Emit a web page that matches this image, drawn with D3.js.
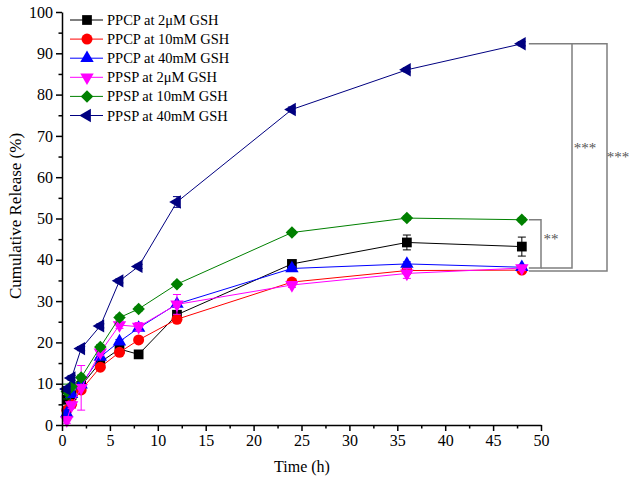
<!DOCTYPE html>
<html>
<head>
<meta charset="utf-8">
<script src="https://cdn.jsdelivr.net/npm/d3@7"></script>
<style>
  body { margin: 0; background: #fff; }
  text { font-family: "Liberation Serif", "Times New Roman", serif; }
</style>
</head>
<body>
<div id="chart"></div>
<script>
// data
var time = [0.5, 1, 2, 4, 6, 8, 12, 24, 36, 48];
var seriesNames = ["PPCP at 2\u03bcM GSH", "PPCP at 10mM GSH", "PPCP at 40mM GSH",
                   "PPSP at 2\u03bcM GSH", "PPSP at 10mM GSH", "PPSP at 40mM GSH"];
var ppcp2  = [6.1, 7.2, 9.5, 15.2, 18.4, 17.1, 26.7, 39.0, 44.2, 43.2];
var ppcp10 = [3.6, 5.0, 8.5, 14.0, 17.6, 20.6, 25.6, 34.6, 37.4, 37.5];
var ppcp40 = [2.8, 7.5, 9.8, 16.5, 20.2, 23.5, 29.3, 37.9, 39.0, 38.2];
var ppsp2  = [1.2, 4.8, 9.0, 17.6, 24.2, 23.8, 29.2, 33.9, 36.7, 38.0];
var ppsp10 = [8.1, 9.3, 11.5, 18.9, 26.0, 28.1, 34.1, 46.6, 50.1, 49.7];
var ppsp40 = [8.7, 11.4, 18.5, 24.0, 34.9, 38.4, 54.0, 76.4, 86.0, 92.3];
var ppcp2Err  = [0.6, 0.5, 0.6, 0.8, 0.6, 0.5, 0.8, 0.6, 1.8, 2.3];
var ppcp10Err = [0.5, 0.6, 0.7, 0.5, 0.5, 0.5, 0.5, 0.5, 0.5, 0.5];
var ppcp40Err = [0.8, 0.5, 0.5, 0.6, 0.5, 0.5, 0.6, 0.5, 0.5, 0.5];
var ppsp2Err  = [0.8, 0.8, 5.4, 0.8, 0.8, 1.0, 2.4, 0.6, 1.2, 0.6];
var ppsp10Err = [1.8, 0.8, 0.6, 0.6, 0.6, 0.5, 0.5, 0.5, 0.5, 0.5];
var ppsp40Err = [0.6, 0.6, 0.5, 0.5, 0.5, 0.5, 1.3, 0.6, 0.5, 0.5];
var xTicks = [0, 5, 10, 15, 20, 25, 30, 35, 40, 45, 50];
var yTicks = [0, 10, 20, 30, 40, 50, 60, 70, 80, 90, 100];

var colors = ["#000000", "#ff0000", "#0000ff", "#ff00ff", "#008000", "#000080"];
var values = [ppcp2, ppcp10, ppcp40, ppsp2, ppsp10, ppsp40];
var errors = [ppcp2Err, ppcp10Err, ppcp40Err, ppsp2Err, ppsp10Err, ppsp40Err];

var width = 630, height = 482;
var x = d3.scaleLinear().domain([0, 50]).range([62, 541]);
var y = d3.scaleLinear().domain([0, 100]).range([425, 12]);

var svg = d3.select("#chart").append("svg")
  .attr("width", width)
  .attr("height", height);

// marker shapes: square, circle, up, down, diamond, left
function marker(sel, i) {
  var sym, rot = 0, size = 85;
  if (i == 0) { sym = d3.symbolSquare; size = 95; }
  else if (i == 1) { sym = d3.symbolCircle; size = 95; }
  else if (i == 2) { sym = d3.symbolTriangle; size = 78; }
  else if (i == 3) { sym = d3.symbolTriangle; rot = 180; size = 78; }
  else if (i == 4) { sym = d3.symbolSquare; rot = 45; size = 78; }
  else { sym = d3.symbolTriangle; rot = -90; size = 78; }
  sel.append("path")
    .attr("d", d3.symbol().type(sym).size(size)())
    .attr("transform", function(d) {
      return "translate(" + d[0] + "," + d[1] + ") rotate(" + rot + ")";
    })
    .attr("fill", colors[i]);
}

// series
var line = d3.line().x(function(d) { return x(d.t); }).y(function(d) { return y(d.v); });
values.forEach(function(vals, i) {
  var pts = time.map(function(t, k) { return {t: t, v: vals[k], e: errors[i][k]}; });
  var g = svg.append("g");
  g.append("path")
    .datum(pts)
    .attr("d", line)
    .attr("fill", "none")
    .attr("stroke", colors[i])
    .attr("stroke-width", 1);
  var eb = g.selectAll(".err").data(pts).enter().append("g")
    .attr("stroke", colors[i]).attr("stroke-width", 1);
  eb.append("line")
    .attr("x1", function(d) { return x(d.t); }).attr("x2", function(d) { return x(d.t); })
    .attr("y1", function(d) { return y(d.v - d.e); }).attr("y2", function(d) { return y(d.v + d.e); });
  eb.append("line")
    .attr("x1", function(d) { return x(d.t) - 4; }).attr("x2", function(d) { return x(d.t) + 4; })
    .attr("y1", function(d) { return y(d.v + d.e); }).attr("y2", function(d) { return y(d.v + d.e); });
  eb.append("line")
    .attr("x1", function(d) { return x(d.t) - 4; }).attr("x2", function(d) { return x(d.t) + 4; })
    .attr("y1", function(d) { return y(d.v - d.e); }).attr("y2", function(d) { return y(d.v - d.e); });
  var mk = g.selectAll(".mk").data(pts.map(function(d) { return [x(d.t), y(d.v)]; })).enter();
  marker(mk, i);
});

// significance brackets
var gray = "#7f7f7f";
var br = svg.append("g").attr("stroke", gray).attr("stroke-width", 1.5).attr("fill", "none");
var xLast = x(48) + 7;
var xB1 = 541, xB2 = 572, xB3 = 607;
var yGreen = y(ppsp10[9]), yNavy = y(ppsp40[9]), yLow = y(38), yLow2 = y(37.3);
br.append("path").attr("d", "M" + xLast + "," + yGreen + "H" + xB1 + "V" + yLow + "H" + xLast);
br.append("path").attr("d", "M" + xLast + "," + yNavy + "H" + xB3 + "V" + yLow2 + "H" + xLast);
br.append("path").attr("d", "M" + xB2 + "," + yNavy + "V" + yLow + "H" + xB1);
svg.append("text").attr("x", 551).attr("y", 244).attr("text-anchor", "middle")
  .attr("fill", "#555").style("font-size", "15px").text("**");
svg.append("text").attr("x", 585).attr("y", 153).attr("text-anchor", "middle")
  .attr("fill", "#555").style("font-size", "15px").text("***");
svg.append("text").attr("x", 618).attr("y", 162).attr("text-anchor", "middle")
  .attr("fill", "#555").style("font-size", "15px").text("***");

// axes
var xMinor = d3.range(0, 50.1, 2.5);
var yMinor = d3.range(0, 100.1, 5);
var xAxis = svg.append("g")
  .attr("transform", "translate(0," + 425 + ")")
  .call(d3.axisBottom(x).tickValues(xMinor).tickSizeOuter(0)
    .tickFormat(function(d) { return xTicks.indexOf(d) >= 0 ? d : ""; }));
xAxis.selectAll(".tick line").attr("y2", function(d) { return xTicks.indexOf(d) >= 0 ? 6 : 3.5; });
var yAxis = svg.append("g")
  .attr("transform", "translate(62,0)")
  .call(d3.axisLeft(y).tickValues(yMinor).tickSizeOuter(0)
    .tickFormat(function(d) { return yTicks.indexOf(d) >= 0 ? d : ""; }));
yAxis.selectAll(".tick line").attr("x2", function(d) { return yTicks.indexOf(d) >= 0 ? -6 : -3.5; });
svg.selectAll(".domain, .tick line").attr("stroke", "#000").attr("stroke-width", 1.5);
svg.selectAll(".tick text").style("font-family", "Liberation Serif").style("font-size", "16px").attr("fill", "#000");
xAxis.selectAll(".tick text").attr("y", 10);
yAxis.selectAll(".tick text").attr("x", -9);

svg.append("text").attr("x", 302).attr("y", 472).attr("text-anchor", "middle")
  .style("font-size", "16px").text("Time (h)");
svg.append("text").attr("transform", "translate(21,216) rotate(-90)").attr("text-anchor", "middle")
  .style("font-size", "17px").text("Cumulative Release (%)");

// legend
var legend = svg.append("g");
seriesNames.forEach(function(name, i) {
  var ly = 20 + i * 19.1;
  legend.append("line").attr("x1", 70).attr("x2", 103).attr("y1", ly).attr("y2", ly)
    .attr("stroke", colors[i]).attr("stroke-width", 1);
  marker(legend.selectAll(".lm" + i).data([[87, ly]]).enter(), i);
  legend.append("text").attr("x", 107).attr("y", ly + 5).style("font-size", "14.5px").text(name);
});
</script>
</body>
</html>
